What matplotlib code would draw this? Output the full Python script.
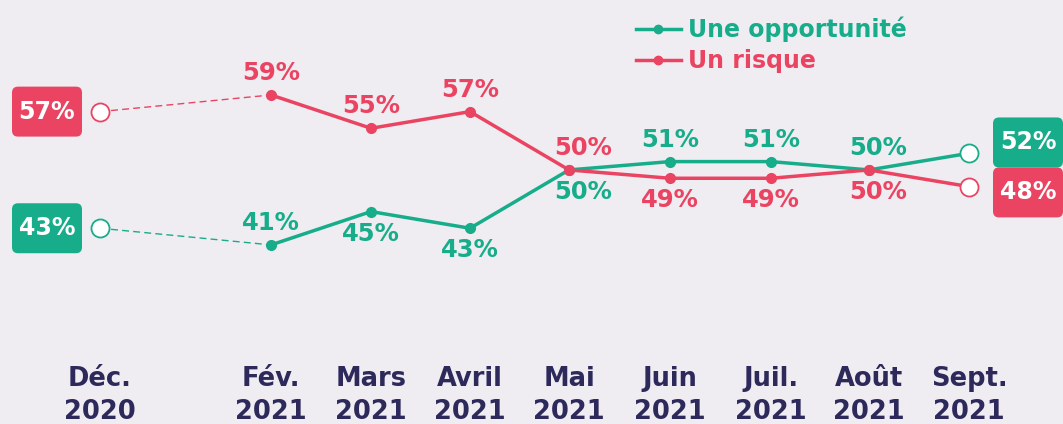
import matplotlib.pyplot as plt
from matplotlib.lines import Line2D
from matplotlib.patches import FancyBboxPatch

plt.rcParams['font.family'] = ['DejaVu Sans']

# =====================
# Données
# =====================
mois = ['Déc.\n2020', 'Fév.\n2021', 'Mars\n2021', 'Avril\n2021', 'Mai\n2021',
        'Juin\n2021', 'Juil.\n2021', 'Août\n2021', 'Sept.\n2021']
x_pos = [0, 1.71, 2.71, 3.70, 4.69, 5.70, 6.71, 7.69, 8.69]
opportunite = [43, 41, 45, 43, 50, 51, 51, 50, 52]
risque = [57, 59, 55, 57, 50, 49, 49, 50, 48]

# placement des étiquettes (+1 au-dessus, -1 en dessous)
pos_opp = [0, 1, -1, -1, -1, 1, 1, 1, 0]
pos_risque = [0, 1, 1, 1, 1, -1, -1, -1, 0]
decal_x = [0, 0, 0, 0, 14, 0, 0, 9, 0]

VERT = '#17AD8A'
ROUGE = '#EA4462'
FOND = '#EFEDF2'
NUIT = '#2D2A5B'

fig = plt.figure(figsize=(10.63, 4.24), dpi=100, facecolor=FOND)
ax = fig.add_axes([0, 0, 1, 1])
ax.set_facecolor(FOND)
ax.set_xlim(-1.0, 9.63)
ax.set_ylim(19.5, 70.4)
ax.axis('off')

for serie, couleur, places in [(opportunite, VERT, pos_opp), (risque, ROUGE, pos_risque)]:
    # tirets Déc -> Fév
    ax.plot(x_pos[:2], serie[:2], color=couleur, lw=1, ls=(0, (5, 3)), zorder=2)
    # ligne pleine Fév -> Sept
    ax.plot(x_pos[1:], serie[1:], color=couleur, lw=2.5, zorder=2)
    ax.plot(x_pos[1:-1], serie[1:-1], 'o', color=couleur, ms=7, zorder=3)
    ax.plot([x_pos[0], x_pos[-1]], [serie[0], serie[-1]], 'o', mfc='white',
            mec=couleur, mew=1.3, ms=13, zorder=3)
    for i in range(1, len(serie) - 1):
        ax.annotate(f'{serie[i]}%', (x_pos[i], serie[i]),
                    xytext=(decal_x[i], 22 * places[i]), textcoords='offset pixels',
                    ha='center', va='center', color=couleur,
                    fontsize=17.5, fontweight='bold', zorder=4)

# boîtes de début / fin
def boite(xc, yc, texte, couleur):
    w, h = 0.70, 6.0
    p = FancyBboxPatch((xc - w / 2, yc - h / 2), w, h,
                       boxstyle='round,pad=0,rounding_size=0.06',
                       mutation_aspect=12, fc=couleur, ec='none', zorder=5,
                       clip_on=False)
    ax.add_patch(p)
    ax.text(xc, yc, texte, ha='center', va='center', color='white',
            fontsize=17, fontweight='bold', zorder=6)

boite(x_pos[0] - 0.53, risque[0], f'{risque[0]}%', ROUGE)
boite(x_pos[0] - 0.53, opportunite[0], f'{opportunite[0]}%', VERT)
boite(x_pos[-1] + 0.59, opportunite[-1] + 1.3, f'{opportunite[-1]}%', VERT)
boite(x_pos[-1] + 0.59, risque[-1] - 0.7, f'{risque[-1]}%', ROUGE)

# étiquettes des mois
for x, m in zip(x_pos, mois):
    ax.text(x, 22.9, m, ha='center', va='center', color=NUIT,
            fontsize=18.5, fontweight='bold', linespacing=1.38)

# légende
handles = [Line2D([], [], color=VERT, lw=2.5, marker='o', ms=6),
           Line2D([], [], color=ROUGE, lw=2.5, marker='o', ms=6)]
ax.legend(handles, ['Une opportunité', 'Un risque'], loc='upper left',
          bbox_to_anchor=(624 / 1063, 1 - 5 / 424), bbox_transform=fig.transFigure,
          frameon=False, labelcolor='linecolor', handlelength=1.9,
          handletextpad=0.3, labelspacing=0.3, borderpad=0,
          prop={'size': 17, 'weight': 'bold'})

fig.savefig('out.png', dpi=100, facecolor=FOND)
